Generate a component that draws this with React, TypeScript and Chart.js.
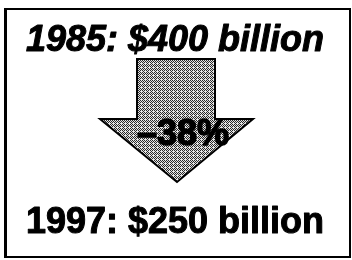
import React, { useEffect, useRef } from "react";
import { Chart, registerables } from "chart.js";

Chart.register(...registerables);

const years = ["1985", "1997"];
const values = [400, 250];
const unit = "billion";

const arrowPlugin = {
  id: "arrowPlugin",
  afterDraw(chart: any) {
    const ctx = chart.ctx as CanvasRenderingContext2D;
    const vals = chart.data.datasets[0].data as number[];
    const labs = chart.data.labels as string[];
    const pct = Math.round((Math.abs(vals[1] - vals[0]) / vals[0]) * 100);
    ctx.save();
    // frame
    ctx.strokeStyle = "#000";
    ctx.lineWidth = 2;
    ctx.strokeRect(5, 9, 345, 248);
    ctx.fillStyle = "#000";
    ctx.fillRect(4, 9, 3, 248);

    // dither pattern
    const pc = document.createElement("canvas");
    pc.width = 4;
    pc.height = 4;
    const pctx = pc.getContext("2d")!;
    const bayer = [0, 8, 2, 10, 12, 4, 14, 6, 3, 11, 1, 9, 15, 7, 13, 5];
    for (let i = 0; i < 16; i++) {
      pctx.fillStyle = bayer[i] < 7 ? "#2a2a2a" : "#e4e4e4";
      pctx.fillRect(i % 4, Math.floor(i / 4), 1, 1);
    }
    const pattern = ctx.createPattern(pc, "repeat")!;

    // arrow
    ctx.beginPath();
    ctx.moveTo(137, 59);
    ctx.lineTo(215, 59);
    ctx.lineTo(215, 119);
    ctx.lineTo(253, 119);
    ctx.lineTo(177, 182);
    ctx.lineTo(100, 119);
    ctx.lineTo(137, 119);
    ctx.closePath();
    ctx.fillStyle = pattern;
    ctx.fill();
    ctx.lineWidth = 2;
    ctx.strokeStyle = "#000";
    ctx.stroke();

    ctx.fillStyle = "#000";
    ctx.strokeStyle = "#000";
    ctx.lineJoin = "round";
    ctx.textAlign = "center";
    ctx.textBaseline = "alphabetic";
    const draw = (t: string, x: number, y: number, w: number) => {
      ctx.fillText(t, x, y);
      ctx.lineWidth = w;
      ctx.strokeText(t, x, y);
    };
    ctx.font = "italic bold 36px 'Liberation Sans', Arial, sans-serif";
    draw(`${labs[0]}: $${vals[0]} ${unit}`, 175, 51, 1);
    ctx.font = "bold 36px 'Liberation Sans', Arial, sans-serif";
    draw(`${labs[1]}: $${vals[1]} ${unit}`, 175, 233, 1);
    ctx.font = "bold 36px 'Liberation Sans', Arial, sans-serif";
    draw(`\u2013${pct}%`, 183, 145, 1.5);
    ctx.restore();
  },
};

export default function App() {
  const ref = useRef<HTMLCanvasElement>(null);
  useEffect(() => {
    const chart = new Chart(ref.current!, {
      type: "bar",
      data: {
        labels: years,
        datasets: [{ data: values, backgroundColor: "rgba(0,0,0,0)" }],
      },
      options: {
        animation: false,
        responsive: false,
        events: [],
        plugins: { legend: { display: false }, tooltip: { enabled: false } },
        scales: { x: { display: false }, y: { display: false } },
      },
      plugins: [arrowPlugin],
    });
    return () => chart.destroy();
  }, []);
  return (
    <div style={{ position: "absolute", left: 0, top: 0, width: 352, height: 260, background: "#fff" }}>
      <canvas ref={ref} width={352} height={260} style={{ display: "block" }} />
    </div>
  );
}
